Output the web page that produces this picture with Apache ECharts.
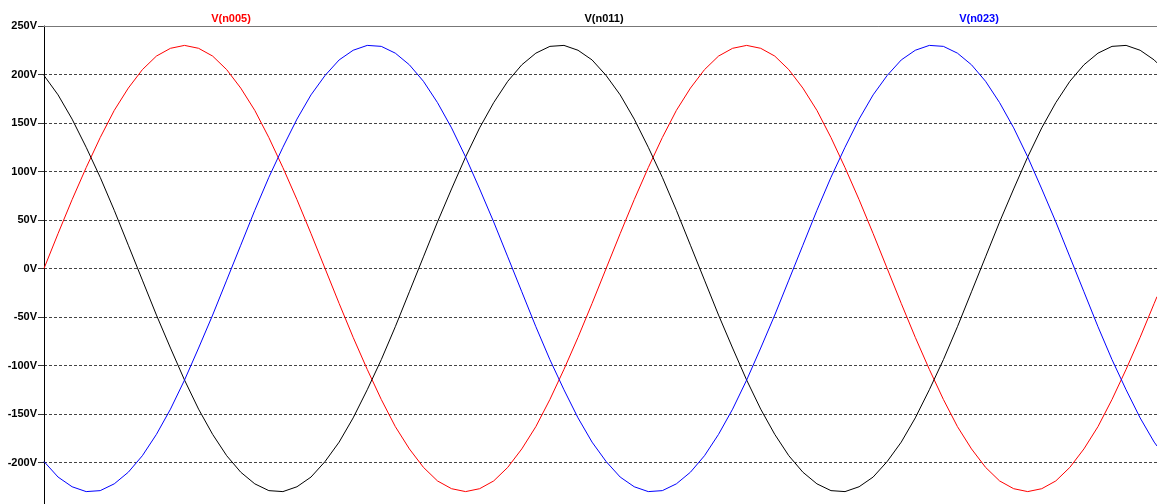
<!DOCTYPE html>
<html>
<head>
<meta charset="utf-8">
<title>Three-phase voltages</title>
<script src="https://cdn.jsdelivr.net/npm/echarts@6/dist/echarts.min.js"></script>
<style>
  html, body { margin: 0; padding: 0; background: #ffffff; overflow: hidden; }
  /* the view window; the plot runs a few pixels past its lower edge */
  #frame { width: 1157px; height: 504px; overflow: hidden; position: relative; }
  #chart { width: 1157px; height: 511px; }
</style>
</head>
<body>
<div id="frame"><div id="chart"></div></div>
<script>
// Sample step (ms) of the transient output and the final time point
const sampleStepMs = 0.5;
const endTimeMs = 39.6;

// Trace names as shown above the plot
const traceNames = ['V(n005)', 'V(n011)', 'V(n023)'];
const traceColors = ['#ff0000', '#000000', '#0000ff'];

// Node voltages (V), one value per sample, last value at endTimeMs
const vN005 = [
  0, 36, 71, 104, 135, 163, 186, 205, 219, 227,
  230, 227, 219, 205, 186, 163, 135, 104, 71, 36,
  0, -36, -71, -104, -135, -163, -186, -205, -219, -227,
  -230, -227, -219, -205, -186, -163, -135, -104, -71, -36,
  0, 36, 71, 104, 135, 163, 186, 205, 219, 227,
  230, 227, 219, 205, 186, 163, 135, 104, 71, 36,
  0, -36, -71, -104, -135, -163, -186, -205, -219, -227,
  -230, -227, -219, -205, -186, -163, -135, -104, -71, -36,
  -29
];
const vN011 = [
  199, 179, 154, 125, 94, 60, 24, -12, -48, -82,
  -115, -145, -171, -193, -210, -222, -229, -230, -225, -215,
  -199, -179, -154, -125, -94, -60, -24, 12, 48, 82,
  115, 145, 171, 193, 210, 222, 229, 230, 225, 215,
  199, 179, 154, 125, 94, 60, 24, -12, -48, -82,
  -115, -145, -171, -193, -210, -222, -229, -230, -225, -215,
  -199, -179, -154, -125, -94, -60, -24, 12, 48, 82,
  115, 145, 171, 193, 210, 222, 229, 230, 225, 215,
  212
];
const vN023 = [
  -199, -215, -225, -230, -229, -222, -210, -193, -171, -145,
  -115, -82, -48, -12, 24, 60, 94, 125, 154, 179,
  199, 215, 225, 230, 229, 222, 210, 193, 171, 145,
  115, 82, 48, 12, -24, -60, -94, -125, -154, -179,
  -199, -215, -225, -230, -229, -222, -210, -193, -171, -145,
  -115, -82, -48, -12, 24, 60, 94, 125, 154, 179,
  199, 215, 225, 230, 229, 222, 210, 193, 171, 145,
  115, 82, 48, 12, -24, -60, -94, -125, -154, -179,
  -183
];

// Voltage axis ticks
const yTickMin = -250;
const yTickMax = 250;
const yTickStep = 50;

// Time stamps for each sample
const timeMs = vN005.map((_, i) => i === vN005.length - 1 ? endTimeMs : i * sampleStepMs);
const toPairs = (vals) => vals.map((v, i) => [timeMs[i], v]);

const labelFont = 'bold 11px "Liberation Sans", Arial, sans-serif';

const chart = echarts.init(document.getElementById('chart'), null, { renderer: 'canvas' });

chart.setOption({
  animation: false,
  backgroundColor: '#ffffff',
  grid: { left: 44, right: 0, top: 26, bottom: 0, containLabel: false, outerBoundsMode: 'none' },
  graphic: [
    { type: 'text', x: 231, y: 18.5, style: { text: traceNames[0], fill: traceColors[0], font: labelFont, align: 'center', verticalAlign: 'middle' } },
    { type: 'text', x: 604, y: 18.5, style: { text: traceNames[1], fill: traceColors[1], font: labelFont, align: 'center', verticalAlign: 'middle' } },
    { type: 'text', x: 979, y: 18.5, style: { text: traceNames[2], fill: traceColors[2], font: labelFont, align: 'center', verticalAlign: 'middle' } }
  ],
  xAxis: {
    type: 'value',
    position: 'top',
    min: 0,
    max: endTimeMs,
    z: 1,
    axisLine: { show: true, onZero: false, lineStyle: { color: '#777777', width: 1 } },
    axisTick: { show: false },
    axisLabel: { show: false },
    splitLine: { show: false }
  },
  yAxis: {
    type: 'value',
    min: yTickMin,
    max: yTickMax,
    interval: yTickStep,
    z: 0,
    axisLine: { show: true, onZero: false, lineStyle: { color: '#000000', width: 1 } },
    axisTick: { show: true, length: 6, lineStyle: { color: '#333333' } },
    axisLabel: {
      margin: 7,
      color: '#000000',
      fontFamily: '"Liberation Sans", Arial, sans-serif',
      fontWeight: 'bold',
      fontSize: 11,
      formatter: (v) => v + 'V'
    },
    splitLine: { show: true, lineStyle: { color: '#444444', type: [3, 2], width: 1 } }
  },
  series: [
    { name: traceNames[0], type: 'line', data: toPairs(vN005), showSymbol: false, symbol: 'none', lineStyle: { color: traceColors[0], width: 1 } },
    { name: traceNames[1], type: 'line', data: toPairs(vN011), showSymbol: false, symbol: 'none', lineStyle: { color: traceColors[1], width: 1 } },
    { name: traceNames[2], type: 'line', data: toPairs(vN023), showSymbol: false, symbol: 'none', lineStyle: { color: traceColors[2], width: 1 } }
  ]
});
</script>
</body>
</html>
